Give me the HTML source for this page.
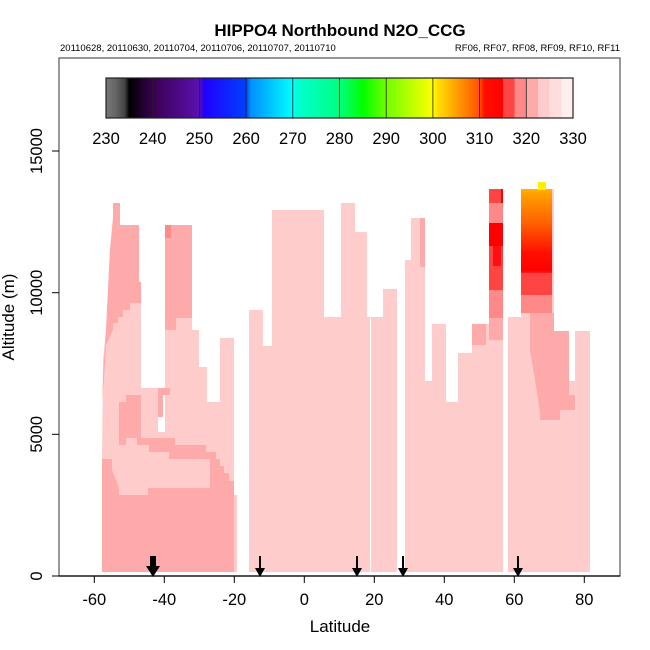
<!DOCTYPE html>
<html><head><meta charset="utf-8"><style>body{margin:0;background:#fff}svg{display:block}text{font-family:"Liberation Sans",sans-serif}</style></head><body>
<svg width="650" height="650" viewBox="0 0 650 650" xmlns="http://www.w3.org/2000/svg">
<defs>
<linearGradient id="cb" x1="106" x2="573" y1="0" y2="0" gradientUnits="userSpaceOnUse">
<stop offset="0" stop-color="#777"/><stop offset="0.02" stop-color="#666"/><stop offset="0.04" stop-color="#444"/><stop offset="0.05" stop-color="#000"/>
<stop offset="0.1" stop-color="#3a0050"/><stop offset="0.2" stop-color="#5a10b0"/><stop offset="0.21" stop-color="#2000ff"/>
<stop offset="0.3" stop-color="#0040ff"/><stop offset="0.31" stop-color="#0090ff"/><stop offset="0.4" stop-color="#00ffff"/>
<stop offset="0.41" stop-color="#00ffd0"/><stop offset="0.5" stop-color="#00ff80"/><stop offset="0.55" stop-color="#00ff00"/>
<stop offset="0.6" stop-color="#70ff00"/><stop offset="0.7" stop-color="#ffff00"/><stop offset="0.71" stop-color="#ffe000"/>
<stop offset="0.8" stop-color="#ff5000"/><stop offset="0.81" stop-color="#ff1000"/><stop offset="0.85" stop-color="#ff0000"/>
<stop offset="0.85" stop-color="#ff4444"/><stop offset="0.875" stop-color="#ff4444"/><stop offset="0.875" stop-color="#ff8888"/>
<stop offset="0.9" stop-color="#ff8888"/><stop offset="0.9" stop-color="#ffaaaa"/><stop offset="0.925" stop-color="#ffaaaa"/>
<stop offset="0.925" stop-color="#ffcccc"/><stop offset="0.95" stop-color="#ffcccc"/><stop offset="0.95" stop-color="#ffdddd"/>
<stop offset="0.975" stop-color="#ffdddd"/><stop offset="0.975" stop-color="#ffeeee"/><stop offset="1" stop-color="#ffeeee"/>
</linearGradient>
<linearGradient id="tw" x1="0" x2="0" y1="182" y2="300" gradientUnits="userSpaceOnUse">
<stop offset="0" stop-color="#ffd000"/><stop offset="0.1" stop-color="#ffa000"/><stop offset="0.35" stop-color="#ff6000"/><stop offset="0.6" stop-color="#ff1000"/><stop offset="0.75" stop-color="#ff0000"/><stop offset="0.8" stop-color="#ff4444"/><stop offset="1" stop-color="#ff4444"/>
</linearGradient>
</defs>
<text x="340" y="36" font-size="17" font-weight="bold" text-anchor="middle">HIPPO4 Northbound N2O_CCG</text>
<text x="60" y="51" font-size="9.5">20110628, 20110630, 20110704, 20110706, 20110707, 20110710</text>
<text x="620" y="51" font-size="9.5" text-anchor="end">RF06, RF07, RF08, RF09, RF10, RF11</text>

<polygon fill="#ffcccc" points="102,572 102,460 103,360 106,330 110,250 113,218 113,203 120,203 120,225 139,225 139,282 141,282 141,388 158,388 158,432 165,432 165,225 192,225 192,330 199,330 199,367 207,367 207,402 220,402 220,338 234,338 234,495 237,495 237,572"/>
<g fill="#ffaaaa">
<polygon points="102,400 104,360 106,330 108,290 110,250 113,218 113,203 120,203 120,225 139,225 139,282 141,282 141,303 130,303 130,310 123,310 123,317 118,317 118,323 113,323 113,330 106,345 104,380"/>
<polygon points="165,225 192,225 192,318 176,318 176,330 165,330"/>
<polygon points="158,388 170,388 170,395 163,395 163,417 158,417"/>
<polygon points="126,395 141,395 141,438 126,438 126,445 119,445 119,402 126,402"/>
<polygon points="137,438 175,438 175,445 206,445 206,452 216,452 216,459 169,459 169,452 149,452 149,445 137,445"/>
<polygon points="102,459 112,459 112,470 116,480 119,488 119,495 148,495 148,488 210,488 210,459 220,459 220,466 224,466 224,473 229,473 229,481 234,481 234,572 102,572"/>
</g>
<polygon points="165,225 171,225 171,238 165,238" fill="#ff8888"/>

<g fill="#ffcccc">
<rect x="249" y="310" width="14" height="262"/>
<rect x="263" y="346" width="9" height="226"/>
<rect x="272" y="210" width="52" height="362"/>
<rect x="324" y="317" width="17" height="255"/>
<rect x="341" y="203" width="14" height="369"/>
<rect x="355" y="232" width="12" height="340"/>
<rect x="367" y="317" width="3" height="255"/>
<rect x="371" y="317" width="12" height="255"/>
<rect x="383" y="289" width="14" height="283"/>
<rect x="405" y="260" width="7" height="312"/>
<rect x="411" y="218" width="14" height="354"/>
<rect x="425" y="381" width="7" height="191"/>
<rect x="432" y="324" width="14" height="248"/>
<rect x="446" y="402" width="12" height="170"/>
<rect x="458" y="353" width="14" height="219"/>
<rect x="472" y="324" width="17" height="248"/>
<rect x="489" y="189" width="14" height="383"/>
<rect x="508" y="317" width="13" height="255"/>
<rect x="521" y="189" width="33" height="383"/>
<rect x="554" y="331" width="15" height="241"/>
<rect x="569" y="381" width="6" height="191"/>
<rect x="575" y="331" width="15" height="241"/>
</g>
<g fill="#ffaaaa">
<rect x="420" y="218" width="5" height="49"/>
<rect x="472" y="324" width="14" height="21"/>
<rect x="489" y="318" width="14" height="22"/>
<polygon points="530,313 554,313 554,331 569,331 569,395 575,395 575,410 560,410 560,420 540,420 540,412 535,380 530,350"/>
</g>
<g>
<rect x="489" y="189" width="14" height="14" fill="#ff4444"/>
<rect x="501" y="189" width="2" height="14" fill="#ff0000"/>
<rect x="489" y="203" width="14" height="20" fill="#ff8888"/>
<rect x="489" y="223" width="14" height="23" fill="#ff0000"/>
<rect x="489" y="246" width="14" height="44" fill="#ff4444"/>
<rect x="493" y="246" width="8" height="20" fill="#ff1010"/>
<rect x="489" y="290" width="14" height="28" fill="#ff8888"/>
<rect x="521" y="189" width="31" height="84" fill="url(#tw)"/>
<rect x="538" y="182" width="8" height="8" fill="#ffee00"/>
<rect x="521" y="273" width="31" height="22" fill="#ff4444"/>
<rect x="521" y="295" width="31" height="18" fill="#ff8888"/>
</g>

<g fill="#000">
<rect x="150" y="556" width="6" height="14"/><polygon points="146,566 160,566 153,577"/>
<rect x="259" y="556" width="2" height="14"/><polygon points="255,568 265,568 260,577"/>
<rect x="356" y="556" width="2" height="14"/><polygon points="352,568 362,568 357,577"/>
<rect x="402" y="556" width="2" height="14"/><polygon points="398,568 408,568 403,577"/>
<rect x="517" y="556" width="2" height="14"/><polygon points="513,568 523,568 518,577"/>
</g>

<rect x="59" y="58" width="561" height="518" fill="none" stroke="#555" stroke-width="1.2"/>
<line x1="59" y1="576" x2="620" y2="576" stroke="#000" stroke-width="1.2"/>
<rect x="106" y="78" width="467" height="40" fill="url(#cb)" stroke="#222" stroke-width="1.2"/>
<g stroke="#222" stroke-width="0.8">
<line x1="152.7" y1="78" x2="152.7" y2="118"/><line x1="199.4" y1="78" x2="199.4" y2="118"/><line x1="246.1" y1="78" x2="246.1" y2="118"/><line x1="292.8" y1="78" x2="292.8" y2="118"/><line x1="339.5" y1="78" x2="339.5" y2="118"/><line x1="386.2" y1="78" x2="386.2" y2="118"/><line x1="432.9" y1="78" x2="432.9" y2="118"/><line x1="479.6" y1="78" x2="479.6" y2="118"/><line x1="526.3" y1="78" x2="526.3" y2="118"/>
</g>
<g font-size="16.5" text-anchor="middle">
<text x="106" y="144">230</text><text x="152.7" y="144">240</text><text x="199.4" y="144">250</text><text x="246.1" y="144">260</text><text x="292.8" y="144">270</text><text x="339.5" y="144">280</text><text x="386.2" y="144">290</text><text x="432.9" y="144">300</text><text x="479.6" y="144">310</text><text x="526.3" y="144">320</text><text x="573" y="144">330</text>
</g>
<g stroke="#000" stroke-width="1">
<line x1="52" y1="576" x2="59" y2="576"/><line x1="52" y1="434.3" x2="59" y2="434.3"/><line x1="52" y1="292.7" x2="59" y2="292.7"/><line x1="52" y1="151" x2="59" y2="151"/>
<line x1="94.3" y1="576" x2="94.3" y2="583"/><line x1="164.3" y1="576" x2="164.3" y2="583"/><line x1="234.3" y1="576" x2="234.3" y2="583"/><line x1="304.3" y1="576" x2="304.3" y2="583"/><line x1="374.3" y1="576" x2="374.3" y2="583"/><line x1="444.3" y1="576" x2="444.3" y2="583"/><line x1="514.3" y1="576" x2="514.3" y2="583"/><line x1="584.3" y1="576" x2="584.3" y2="583"/>
</g>
<g font-size="16.5" text-anchor="middle">
<text x="94.3" y="605">-60</text><text x="164.3" y="605">-40</text><text x="234.3" y="605">-20</text><text x="304.3" y="605">0</text><text x="374.3" y="605">20</text><text x="444.3" y="605">40</text><text x="514.3" y="605">60</text><text x="584.3" y="605">80</text>
<text transform="translate(42,576) rotate(-90)">0</text>
<text transform="translate(42,434.3) rotate(-90)">5000</text>
<text transform="translate(42,292.7) rotate(-90)">10000</text>
<text transform="translate(42,151) rotate(-90)">15000</text>
<text x="340" y="632" font-size="17">Latitude</text>
<text transform="translate(14,317) rotate(-90)" font-size="17">Altitude (m)</text>
</g>
</svg>
</body></html>
